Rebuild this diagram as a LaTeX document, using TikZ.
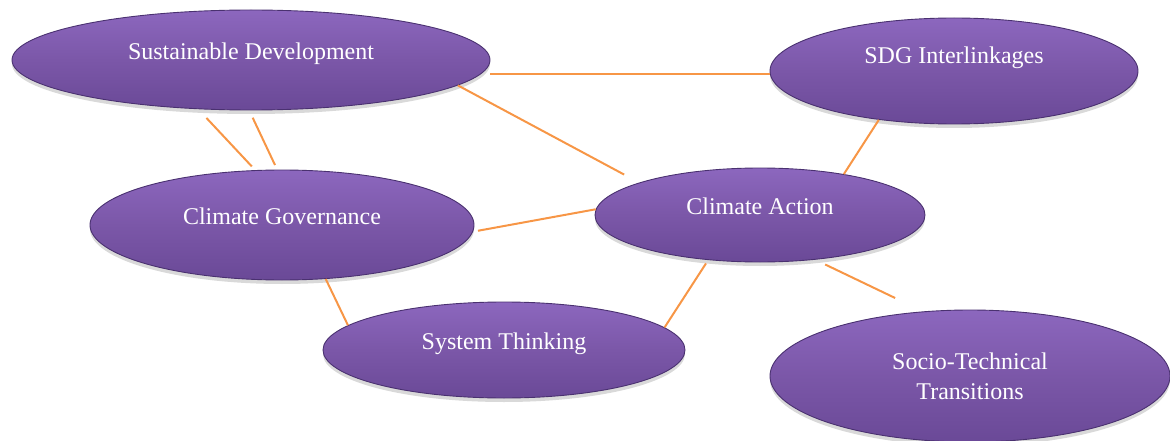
\documentclass[tikz,border=0pt]{standalone}
\usepackage{fontspec}
\setmainfont{Liberation Serif}
\usetikzlibrary{shapes,shadows}
\definecolor{linkorange}{HTML}{F79646}
\definecolor{bubtop}{HTML}{8C67BE}
\definecolor{bubmid}{HTML}{7B57A8}
\definecolor{bubbot}{HTML}{6A4997}
\definecolor{bubedge}{HTML}{4A3170}
\tikzset{
  bubble/.style={ellipse, inner sep=0pt, top color=bubtop, bottom color=bubbot, middle color=bubmid,
    draw=bubedge, line width=0.9pt, text=white, font=\fontsize{24}{30}\selectfont,
    drop shadow={shadow xshift=0pt, shadow yshift=-4pt, opacity=0.3}},
  lifted/.style={text height=16pt, text depth=17pt},
  link/.style={draw=linkorange, line width=2pt}
}
\begin{document}
\begin{tikzpicture}[x=1pt,y=-1pt]
\useasboundingbox (0,0) rectangle (1170,441);
\node[bubble,lifted,minimum width=478pt,minimum height=100pt] (sd) at (251,60) {Sustainable Development};
\node[bubble,lifted,text depth=30pt,minimum width=368pt,minimum height=106pt] (sdg) at (954,71) {SDG Interlinkages};
\node[bubble,lifted,minimum width=330pt,minimum height=94pt] (ca) at (760,215) {Climate Action};
\node[bubble,lifted,minimum width=384pt,minimum height=110pt] (cg) at (282,225) {Climate Governance};
\node[bubble,lifted,minimum width=362pt,minimum height=96pt] (st) at (504,350) {System Thinking};
\node[bubble,align=center,minimum width=400pt,minimum height=132pt] (stt) at (970,376) {Socio-Technical\\Transitions};

\draw[link] (sd.east |- sdg.181.3) -- (sdg.181.3);
\draw[link, shorten >=17pt] (sd.-7) -- (ca.165.7);
\draw[link, shorten <=12pt, shorten >=5pt] (sd.-137.8) -- (cg.116);
\draw[link, shorten <=8pt, shorten >=5pt] (sd.-92.3) -- (cg.95.2);
\draw[link] (sdg.-147.6) -- (ca.26.1);
\draw[link, shorten <=5pt] (cg.-2.1) -- (ca.178.3);
\draw[link] (cg.-51.3) -- (st.171);
\draw[link, shorten >=4pt] (st.8.6) -- (ca.-139.2);
\draw[link, shorten <=11pt, shorten >=31pt] (ca.-39.7) -- (stt.126.3);
\end{tikzpicture}
\end{document}
